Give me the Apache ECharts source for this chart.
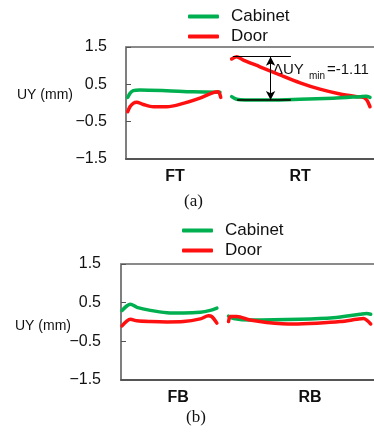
<!DOCTYPE html>
<html>
<head>
<meta charset="utf-8">
<script src="https://cdn.jsdelivr.net/npm/echarts@6/dist/echarts.min.js"></script>
<style>
html, body { margin: 0; padding: 0; background: #fff; }
#chart { width: 374px; height: 432px; }
</style>
</head>
<body>
<div id="chart"></div>
<script>
// x positions are in % of the plot width, y in mm
const yTicks = [-1.5, -0.5, 0.5, 1.5];
const labelsA = ['FT', 'RT'];
const labelPosA = [19.8, 70.2];
const labelsB = ['FB', 'RB'];
const labelPosB = [22.6, 74.7];

// (a) top
const cabFtX = [0.7, 1.6, 2.9, 5.6, 16.4, 27.0, 37.9];
const cabFtY = [0.15, 0.26, 0.33, 0.35, 0.33, 0.30, 0.29];
const doorFtX = [0.7, 1.6, 2.9, 4.3, 7.0, 11.0, 16.4, 23.1, 29.8, 35.2, 37.2, 38.2];
const doorFtY = [-0.23, -0.10, -0.01, 0.02, -0.04, -0.10, -0.10, -0.01, 0.13, 0.28, 0.30, 0.15];
const cabRtX = [42.6, 44.6, 48.0, 58.1, 70.2, 83.5, 94.4, 96.8, 98.4];
const cabRtY = [0.17, 0.10, 0.08, 0.08, 0.10, 0.13, 0.17, 0.18, 0.15];
const doorRtX = [42.6, 44.6, 47.3, 54.0, 62.1, 70.2, 78.2, 86.3, 93.0, 95.7, 97.1, 98.4];
const doorRtY = [1.18, 1.24, 1.15, 0.97, 0.75, 0.54, 0.37, 0.24, 0.17, 0.15, 0.08, -0.10];

// (b) bottom
const cabFbX = [0.4, 2.4, 3.7, 6.3, 11.6, 18.2, 24.7, 31.3, 35.3, 37.9];
const cabFbY = [0.30, 0.42, 0.46, 0.38, 0.30, 0.24, 0.23, 0.25, 0.30, 0.36];
const doorFbX = [0.4, 2.4, 3.7, 6.3, 11.6, 18.2, 24.7, 31.3, 34.6, 35.9, 37.9];
const doorFbY = [-0.10, 0.03, 0.07, 0.03, 0.01, 0.0, 0.01, 0.08, 0.16, 0.14, -0.03];
const cabRbX = [42.5, 44.5, 51.0, 70.8, 83.9, 94.5, 97.1, 98.7];
const cabRbY = [0.15, 0.09, 0.05, 0.07, 0.11, 0.20, 0.22, 0.20];
const doorRbX = [42.5, 43.2, 45.8, 51.0, 57.6, 68.1, 77.4, 86.6, 93.2, 95.8, 97.1, 98.7];
const doorRbY = [0.01, 0.14, 0.14, 0.05, -0.01, -0.05, -0.03, 0.01, 0.07, 0.09, 0.05, -0.05];

// ΔUY annotation (a)
const deltaTop = 1.24;
const deltaBottom = 0.08;

const GREEN = '#00b050';
const RED = '#ff1010';
const FONT = 'Liberation Sans, Arial, sans-serif';

function pairs(xs, ys) {
    return xs.map((x, i) => [x, ys[i]]);
}

function yLabel(v) {
    return v < 0 ? '\u2212' + Math.abs(v).toFixed(1) : v.toFixed(1);
}

function line(name, color, xi, yi, xs, ys, extra) {
    return Object.assign({
        name: name,
        type: 'line',
        xAxisIndex: xi,
        yAxisIndex: yi,
        data: pairs(xs, ys),
        smooth: 0.3,
        showSymbol: false,
        symbol: 'none',
        lineStyle: { color: color, width: 3.5, cap: 'round', join: 'round' },
        itemStyle: { color: color },
        z: 3
    }, extra || {});
}

function bottomAxis(gi, labels, pos) {
    return {
        type: 'value', gridIndex: gi, min: 0, max: 100, position: 'bottom',
        axisLine: { show: true, onZero: false, lineStyle: { color: '#555', width: 2 } },
        axisTick: { show: false },
        splitLine: { show: false },
        axisLabel: {
            customValues: pos,
            formatter: v => labels[pos.indexOf(v)] || '',
            color: '#111', fontSize: 16, fontWeight: 'bold', fontFamily: FONT, margin: 10
        }
    };
}
function topAxis(gi) {
    return {
        type: 'value', gridIndex: gi, min: 0, max: 100, position: 'top',
        axisLine: { show: true, onZero: false, lineStyle: { color: '#8a8a8a', width: 2 } },
        axisTick: { show: false }, axisLabel: { show: false }, splitLine: { show: false }
    };
}
function leftAxis(gi, margin) {
    return {
        type: 'value', gridIndex: gi, min: -1.5, max: 1.5, interval: 1,
        axisLine: { show: true, onZero: false, lineStyle: { color: '#555', width: 1.5 } },
        axisTick: { show: true, inside: true, length: 5, lineStyle: { color: '#555' } },
        splitLine: { show: false },
        axisLabel: { formatter: yLabel, color: '#111', fontSize: 16, fontFamily: FONT, margin: margin }
    };
}
function legend(left, top) {
    return {
        orient: 'vertical', left: left, top: top, itemGap: 3,
        itemWidth: 31, itemHeight: 4, icon: 'roundRect',
        data: ['Cabinet', 'Door'],
        textStyle: { fontSize: 17, color: '#111', fontFamily: FONT, padding: [0, 0, 0, 7] },
        selectedMode: false
    };
}

const chart = echarts.init(document.getElementById('chart'), null, { renderer: 'canvas' });

const option = {
    animation: false,
    backgroundColor: '#fff',
    grid: [
        { left: 126, top: 47, right: 0, height: 112 },
        { left: 121, top: 264, right: 0, height: 116 }
    ],
    legend: [legend(183, 3), legend(177, 217)],
    xAxis: [bottomAxis(0, labelsA, labelPosA), topAxis(0), bottomAxis(1, labelsB, labelPosB), topAxis(1)],
    yAxis: [leftAxis(0, 19), leftAxis(1, 20)],
    series: [
        line('Cabinet', GREEN, 0, 0, cabFtX, cabFtY),
        line('Door', RED, 0, 0, doorFtX, doorFtY),
        line('Door', RED, 0, 0, doorRtX, doorRtY),
        line('Cabinet', GREEN, 0, 0, cabRtX, cabRtY, {
            markLine: {
                silent: true, animation: false,
                label: { show: false },
                symbolSize: [7, 9],
                lineStyle: { color: '#000', type: 'solid', width: 1 },
                data: [
                    [{ coord: [43.1, deltaTop], symbol: 'none' }, { coord: [66.5, deltaTop], symbol: 'none' }],
                    [{ coord: [44.8, deltaBottom], symbol: 'none', lineStyle: { width: 2, color: '#0a2a10' } },
                     { coord: [66.5, deltaBottom], symbol: 'none' }],
                    [{ coord: [58.3, deltaTop], symbol: 'arrow' }, { coord: [58.3, deltaBottom], symbol: 'arrow' }]
                ]
            }
        }),
        line('Cabinet', GREEN, 2, 1, cabFbX, cabFbY),
        line('Cabinet', GREEN, 2, 1, cabRbX, cabRbY),
        line('Door', RED, 2, 1, doorFbX, doorFbY),
        line('Door', RED, 2, 1, doorRbX, doorRbY)
    ],
    graphic: [
        { type: 'text', right: 301, top: 88, style: { text: 'UY (mm)', font: '14px ' + FONT, fill: '#111' } },
        { type: 'text', right: 303, top: 319, style: { text: 'UY (mm)', font: '14px ' + FONT, fill: '#111' } },
        { type: 'text', left: 273, top: 62, style: { text: '\u0394UY', font: '15px ' + FONT, fill: '#111' } },
        { type: 'text', left: 309, top: 71, style: { text: 'min', font: '10px ' + FONT, fill: '#111' } },
        { type: 'text', left: 327, top: 62, style: { text: '=-1.11', font: '15px ' + FONT, fill: '#111' } },
        { type: 'text', left: 184, top: 193, style: { text: '(a)', font: '17px Liberation Serif, Times New Roman, serif', fill: '#111' } },
        { type: 'text', left: 186, top: 409, style: { text: '(b)', font: '17px Liberation Serif, Times New Roman, serif', fill: '#111' } }
    ]
};

chart.setOption(option);
window.addEventListener('resize', () => {
    chart.resize();
}, false);
</script>
</body>
</html>
